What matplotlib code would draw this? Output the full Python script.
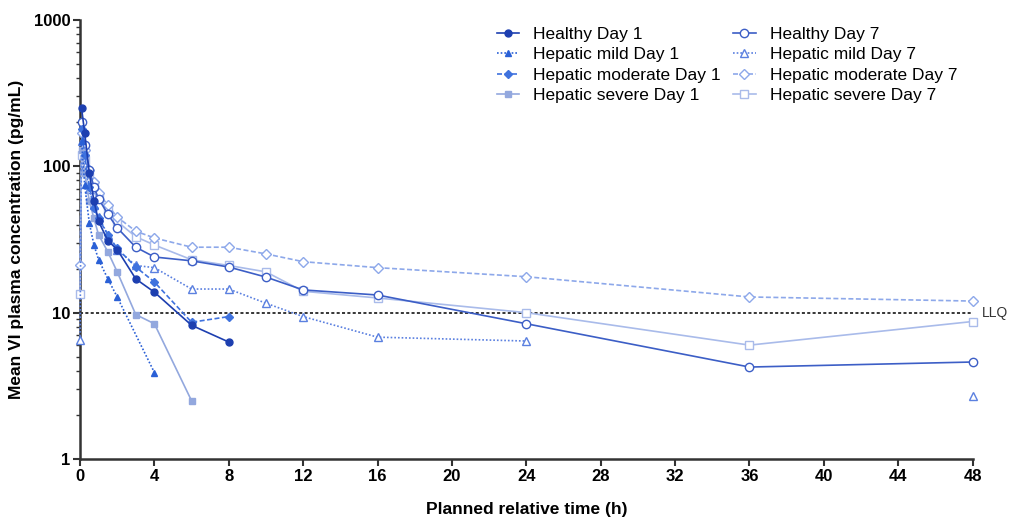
import numpy as np
import matplotlib
matplotlib.use("Agg")
import matplotlib.pyplot as plt
from matplotlib.ticker import FixedLocator, FixedFormatter, LogLocator, NullFormatter

nan = np.nan
# planned times (h)
t = [0, 0.083, 0.25, 0.5, 0.75, 1, 1.5, 2, 3, 4, 6, 8, 10, 12, 16, 24, 36, 48]

healthy_d1  = [nan, 250, 170, 90, 58, 42, 31, 27, 17, 13.8, 8.2, 6.3, nan, nan, nan, nan, nan, nan]
mild_d1     = [nan, 150, 75, 41, 29, 23, 17, 12.8, nan, 3.9, nan, nan, nan, nan, nan, nan, nan, nan]
moderate_d1 = [nan, 180, 120, 72, 52, 44, 34, 27.5, 20.5, 16.2, 8.6, 9.4, nan, nan, nan, nan, nan, nan]
severe_d1   = [nan, 130, 90, 58, 44, 34, 26, 19, 9.7, 8.4, 2.5, nan, nan, nan, nan, nan, nan, nan]

healthy_d7  = [nan, 200, 140, 95, 72, 60, 47, 38, 28, 24, 22.6, 20.5, 17.5, 14.3, 13.2, 8.4, 4.25, 4.6]
mild_d7     = [6.5, 150, 100, 70, 54, 45, 34, 27, 21, 20.3, 14.5, 14.5, 11.6, 9.4, 6.8, 6.4, nan, 2.7]
moderate_d7 = [21, 170, 130, 95, 78, 66, 54, 45, 36, 32.4, 28, 28, 25.2, 22.3, 20.3, 17.6, 12.8, 12.0]
severe_d7   = [13.5, 120, 110, 88, 74, 62, 51, 42, 33, 29, 23, 21, 19, 14, 12.6, 10, 6.0, 8.7]

labels = ["Healthy Day 1", "Hepatic mild Day 1", "Hepatic moderate Day 1", "Hepatic severe Day 1",
          "Healthy Day 7", "Hepatic mild Day 7", "Hepatic moderate Day 7", "Hepatic severe Day 7"]
series = [healthy_d1, mild_d1, moderate_d1, severe_d1, healthy_d7, mild_d7, moderate_d7, severe_d7]
# whether the line bridges missing samples (mild Day 7 is broken at 36 h)
bridge_gaps = [True, True, True, True, True, False, True, True]

x_ticks = [0, 4, 8, 12, 16, 20, 24, 28, 32, 36, 40, 44, 48]
y_ticks = [1, 10, 100, 1000]
y_tick_labels = ["1", "10", "100", "1000"]
llq = 10

colors = ["#1d3fb0", "#2a60d6", "#3f72de", "#93a8de",
          "#3c5ec6", "#5b80e0", "#8da8ea", "#a9bbea"]
markers = ["o", "^", "D", "s", "o", "^", "D", "s"]
fills = [True, True, True, True, False, False, False, False]
styles = ["-", (0, (1, 1.2)), (0, (3, 1.5)), "-", "-", (0, (1, 1.2)), (0, (3, 1.5)), "-"]
msizes = [5, 5, 4.2, 5, 6, 6, 5.5, 6]

fig = plt.figure(figsize=(10.10, 5.24), dpi=100)
ax = fig.add_axes([0.0792, 0.124, 0.8838, 0.838])

tt = np.array(t, dtype=float)
order = [7, 6, 5, 4, 3, 2, 1, 0]
handles = {}
for i in order:
    y = np.array(series[i], dtype=float)
    xs, ys = tt, y
    if bridge_gaps[i]:
        m = ~np.isnan(y)
        xs, ys = tt[m], y[m]
    mfc = colors[i] if fills[i] else "white"
    h, = ax.plot(xs, ys, linestyle=styles[i], color=colors[i], lw=1.2,
                 marker=markers[i], markersize=msizes[i], markerfacecolor=mfc,
                 markeredgecolor=colors[i], markeredgewidth=1.0, label=labels[i],
                 clip_on=False, zorder=3 + (8 - i) * 0.1)
    handles[i] = h

ax.axhline(llq, color="black", lw=1.1, linestyle=(0, (2, 1.5)), zorder=2)
ax.text(48.5, llq, "LLQ", ha="left", va="center", fontsize=10, color="#333333",
        family="Liberation Sans")

ax.set_yscale("log")
ax.set_ylim(1, 1000)
ax.set_xlim(0, 48)
ax.yaxis.set_major_locator(FixedLocator(y_ticks))
ax.yaxis.set_major_formatter(FixedFormatter(y_tick_labels))
ax.yaxis.set_minor_locator(LogLocator(base=10, subs=np.arange(2, 10)))
ax.yaxis.set_minor_formatter(NullFormatter())
ax.set_xticks(x_ticks)
ax.set_xticklabels([str(v) for v in x_ticks])

for s in ["top", "right"]:
    ax.spines[s].set_visible(False)
for s in ["left", "bottom"]:
    ax.spines[s].set_linewidth(1.8)
    ax.spines[s].set_color("#333333")

ax.tick_params(axis="both", which="major", length=5, width=1.5, color="#333333", pad=2)
ax.tick_params(axis="y", which="minor", length=3, width=1.0, color="#333333")
for lab in ax.get_yticklabels():
    lab.set_fontfamily("Liberation Sans")
    lab.set_fontweight("bold")
    lab.set_fontsize(12)
for lab in ax.get_xticklabels():
    lab.set_fontfamily("Liberation Sans")
    lab.set_fontweight("bold")
    lab.set_fontsize(12)

ax.set_xlabel("Planned relative time (h)", fontsize=12.5, fontweight="bold",
              family="Liberation Sans", labelpad=13)
ax.set_ylabel("Mean VI plasma concentration (pg/mL)", fontsize=12.5, fontweight="bold",
              family="Liberation Sans", labelpad=7)

leg = ax.legend([handles[i] for i in range(8)], labels, ncol=2, loc="upper right",
                bbox_to_anchor=(1.0, 1.02), frameon=False,
                handlelength=1.3, handletextpad=0.8, labelspacing=0.3, columnspacing=0.7,
                prop={"family": "Liberation Sans", "size": 12.5})

fig.savefig("out.png", dpi=100)
